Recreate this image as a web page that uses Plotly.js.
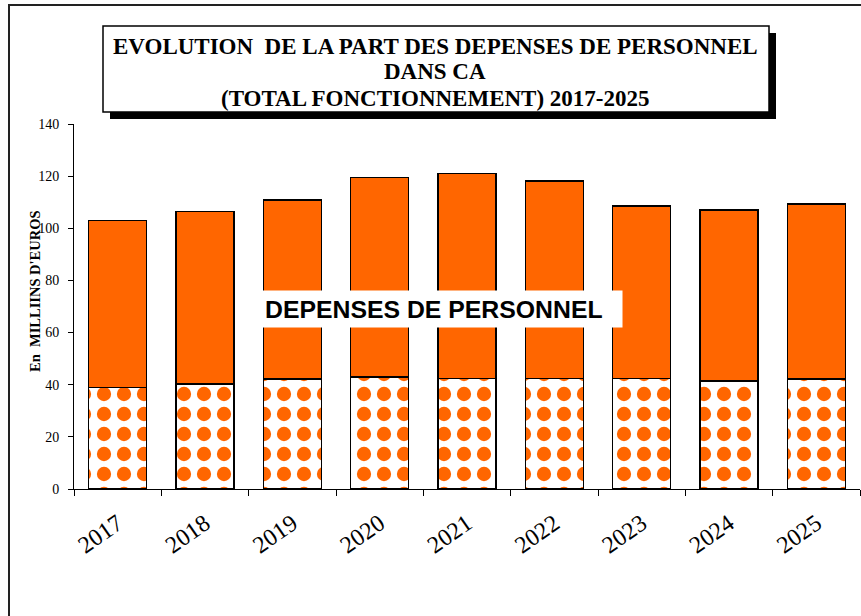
<!DOCTYPE html>
<html>
<head>
<meta charset="utf-8">
<script src="https://cdn.plot.ly/plotly-3.0.1.min.js"></script>
<style>
  html, body { margin: 0; padding: 0; background: #ffffff; }
  #chart { width: 861px; height: 616px; }
</style>
</head>
<body>
<div id="chart"></div>
<script>
// ---- data ----
const years = ["2017", "2018", "2019", "2020", "2021", "2022", "2023", "2024", "2025"];
const totalFonctionnement = [102.9, 106.5, 110.9, 119.5, 121.1, 118.2, 108.6, 107.1, 109.3];
const depensesPersonnel = [39.0, 40.2, 42.1, 43.0, 42.3, 42.3, 42.3, 41.4, 42.1];
const yTicks = [0, 20, 40, 60, 80, 100, 120, 140];
const titleLines = [
  "EVOLUTION&nbsp; DE LA PART DES DEPENSES DE PERSONNEL",
  "DANS CA",
  "(TOTAL FONCTIONNEMENT) 2017-2025"
];

const autresDepenses = totalFonctionnement.map((t, i) => +(t - depensesPersonnel[i]).toFixed(2));

// ---- geometry helpers (pixel -> paper) ----
const W = 861, H = 616;
const M = { l: 74, r: 1, t: 124, b: 127 };
const PW = W - M.l - M.r, PH = H - M.t - M.b;
const px = x => (x - M.l) / PW;
const py = y => (H - M.b - y) / PH;

const ORANGE = "#FF6600";
const SERIF = "Times New Roman, Liberation Serif, serif";
const SANS = "Arial, Liberation Sans, sans-serif";

const traces = [
  {
    type: "bar",
    name: "Dépenses de personnel",
    x: years,
    y: depensesPersonnel,
    marker: {
      color: "#ffffff",
      line: { color: "#000000", width: 1.5 },
      pattern: { shape: ".", fgcolor: ORANGE, bgcolor: "#ffffff", fgopacity: 1,
                 size: 20, solidity: 0.4, fillmode: "replace" }
    },
    hoverinfo: "x+y"
  },
  {
    type: "bar",
    name: "Autres dépenses",
    x: years,
    y: autresDepenses,
    marker: { color: ORANGE, line: { color: "#000000", width: 1.5 } },
    hoverinfo: "x+y"
  }
];

const titleY = [46, 71, 98];
const titleAnnotations = titleLines.map((t, i) => ({
  text: t,
  xref: "paper", yref: "paper", x: px(435), y: py(titleY[i]),
  xanchor: "center", yanchor: "middle", showarrow: false,
  font: { family: SERIF, size: 23, color: "#000000", weight: "bold" }
}));

const layout = {
  width: W, height: H,
  margin: M,
  paper_bgcolor: "#ffffff",
  plot_bgcolor: "#ffffff",
  barmode: "stack",
  bargap: 0.335,
  showlegend: false,
  xaxis: {
    type: "category",
    showline: true, linecolor: "#000000", linewidth: 1,
    ticks: "outside", ticklen: 6, tickcolor: "#000000", tickwidth: 1,
    tickson: "boundaries",
    tickangle: -35,
    ticklabelstandoff: 10,
    tickfont: { family: SERIF, size: 24, color: "#000000" },
    showgrid: false, zeroline: false, fixedrange: true
  },
  yaxis: {
    range: [0, 140],
    tickvals: yTicks,
    ticktext: yTicks.map(String),
    showline: true, linecolor: "#000000", linewidth: 1,
    ticks: "outside", ticklen: 5, tickcolor: "#000000", tickwidth: 1,
    tickfont: { family: SERIF, size: 14, color: "#000000" },
    ticklabelstandoff: 6,
    showgrid: false, zeroline: false, fixedrange: true
  },
  shapes: [
    // outer frame
    { type: "rect", xref: "paper", yref: "paper", x0: px(9), x1: 1.05, y0: -0.5, y1: py(5),
      line: { color: "#222222", width: 2 }, fillcolor: "rgba(0,0,0,0)", layer: "below" },
    // title shadow
    { type: "rect", xref: "paper", yref: "paper", x0: px(110), x1: px(776), y0: py(119), y1: py(33),
      line: { width: 0 }, fillcolor: "#000000", layer: "below" },
    // title box
    { type: "rect", xref: "paper", yref: "paper", x0: px(103), x1: px(769), y0: py(112), y1: py(26),
      line: { color: "#000000", width: 1.5 }, fillcolor: "#ffffff", layer: "below" }
  ],
  annotations: titleAnnotations.concat([
    {
      text: "DEPENSES DE PERSONNEL",
      xref: "paper", yref: "paper", x: px(262), y: py(290), xanchor: "left", yanchor: "top",
      width: 355, height: 32, borderpad: 2, align: "left", valign: "middle",
      bgcolor: "#ffffff", showarrow: false,
      font: { family: SANS, size: 24.8, color: "#000000", weight: "bold" }
    },
    {
      text: "En&nbsp; MILLIINS D'EUROS",
      xref: "paper", yref: "paper", x: px(35), y: py(291), xanchor: "center", yanchor: "middle",
      textangle: -90, showarrow: false,
      font: { family: SERIF, size: 14.5, color: "#000000", weight: "bold" }
    }
  ])
};

Plotly.newPlot("chart", traces, layout, { displayModeBar: false, staticPlot: true });
</script>
</body>
</html>
